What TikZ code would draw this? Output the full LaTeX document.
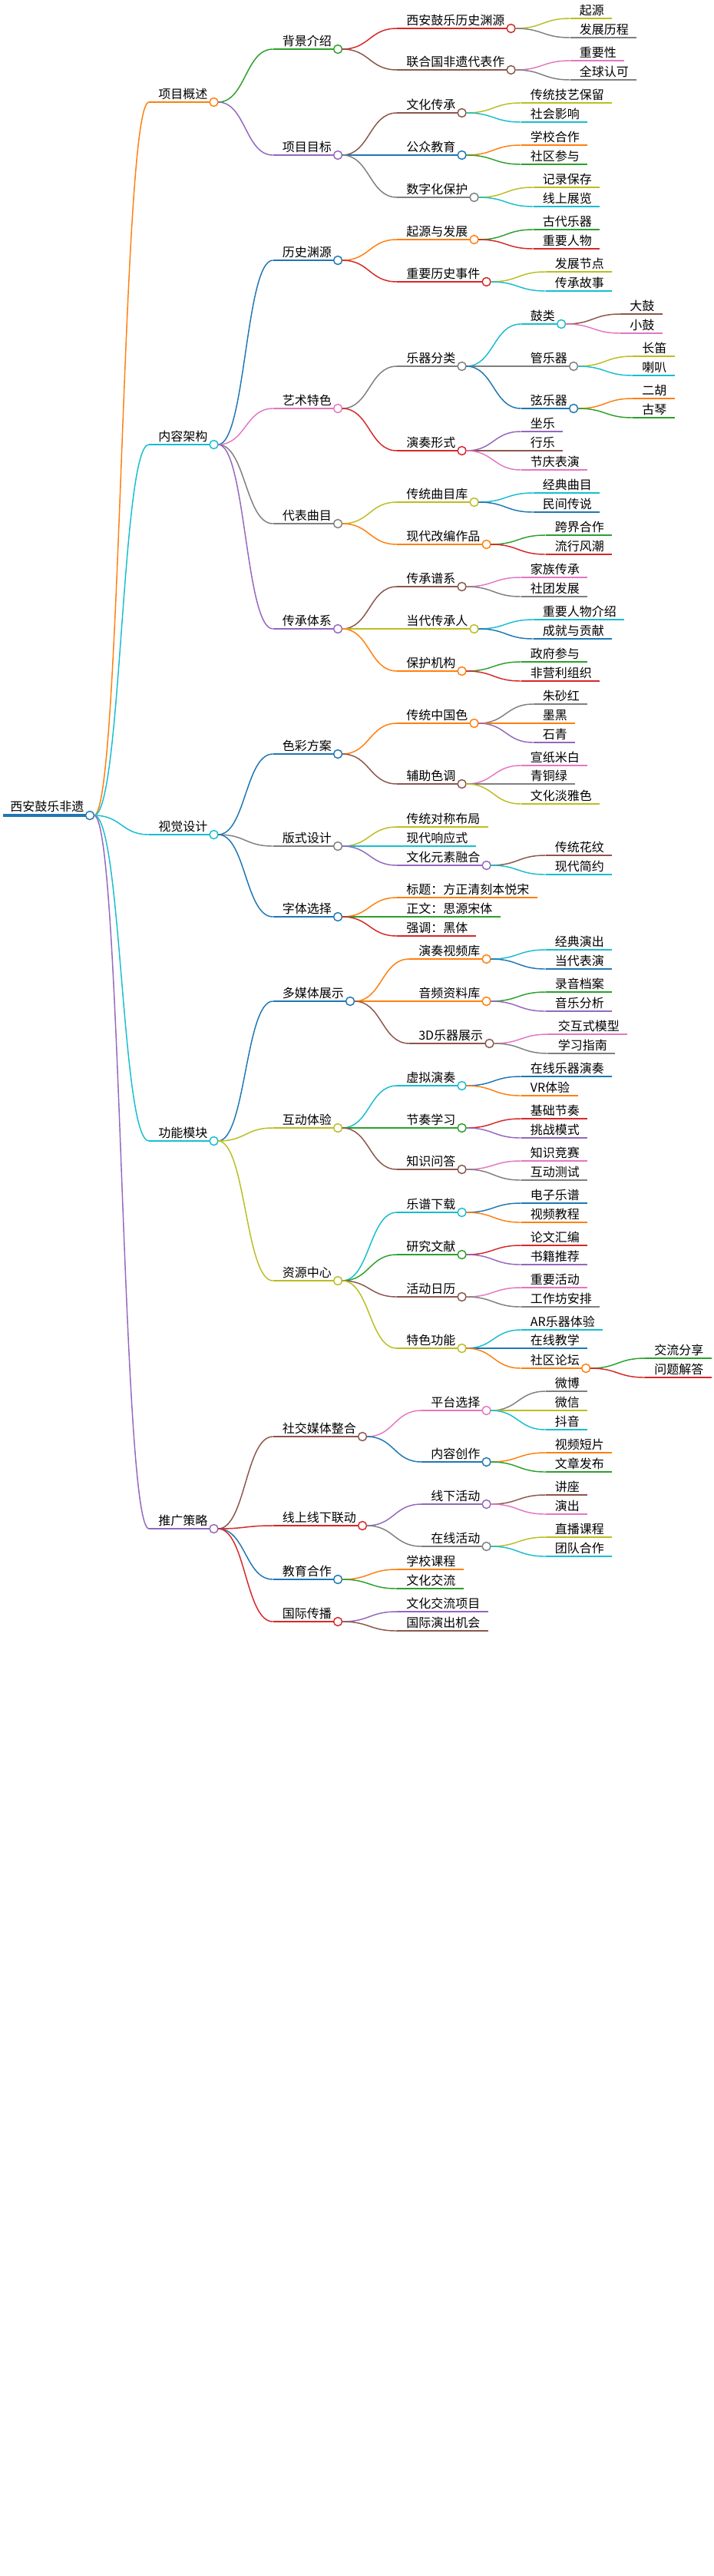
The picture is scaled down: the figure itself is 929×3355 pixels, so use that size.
\documentclass[tikz,border=0pt]{standalone}
\usepackage{fontspec}
\newfontfamily\cjk{Noto Sans CJK SC}
\definecolor{cB}{HTML}{1F77B4}\definecolor{cO}{HTML}{FF7F0E}\definecolor{cG}{HTML}{2CA02C}
\definecolor{cR}{HTML}{D62728}\definecolor{cP}{HTML}{9467BD}\definecolor{cN}{HTML}{8C564B}
\definecolor{cK}{HTML}{E377C2}\definecolor{cY}{HTML}{7F7F7F}\definecolor{cL}{HTML}{BCBD22}
\definecolor{cC}{HTML}{17BECF}
\tikzset{ln/.style={line width=1.1pt},
 txt/.style={inner sep=0pt,font=\cjk\fontsize{12pt}{14pt}\selectfont},
 dot/.style={circle,fill=white,line width=1.1pt,minimum size=8.25pt,inner sep=0pt}}
\newcommand\mn[6]{%
 \path (#2c) ++(77,0) coordinate (tmpa);
 \coordinate (#1s) at (tmpa |- 0,#3);
 \draw[#5,ln] ([xshift=4.1pt]#2c) .. controls +(36,0) and +(-36,0) .. (#1s);
 \node[txt,anchor=base west] (#1t) at ([shift={(12,-5)}]#1s) {#4};
 \ifnum#6=1
  \path (#1t.base east) ++(8,0) coordinate (tmpb);
  \coordinate (#1c) at (tmpb |- #1s);
  \draw[#5,ln] (#1s) -- (#1c);
  \node[dot,draw=#5] (#1o) at (#1c) {};
 \else
  \path (#1t.base east) ++(10,0) coordinate (tmpb);
  \draw[#5,ln] (#1s) -- (tmpb |- #1s);
 \fi}
\begin{document}
\begin{tikzpicture}[x=0.75pt,y=-0.75pt]
\useasboundingbox (0,0) rectangle (929,3355);
\coordinate (rootc) at (117,1062);
\coordinate (roots) at (4,1062);
\draw[cB,line width=2.4pt] (roots) -- (rootc);
\node[txt,anchor=base west] (roott) at (13,1056) {西安鼓乐非遗};
\node[dot,draw=cB] (rooto) at (rootc) {};
\mn{A}{root}{133}{项目概述}{cO}{1}
\mn{AA}{A}{64}{背景介绍}{cG}{1}
\mn{AAA}{AA}{37}{西安鼓乐历史渊源}{cR}{1}
\mn{AAAa}{AAA}{24}{起源}{cL}{0}
\mn{AAAb}{AAA}{49}{发展历程}{cY}{0}
\mn{AAB}{AA}{91}{联合国非遗代表作}{cN}{1}
\mn{AABa}{AAB}{79}{重要性}{cK}{0}
\mn{AABb}{AAB}{104}{全球认可}{cY}{0}
\mn{AB}{A}{202}{项目目标}{cP}{1}
\mn{ABA}{AB}{147}{文化传承}{cN}{1}
\mn{ABAa}{ABA}{134}{传统技艺保留}{cL}{0}
\mn{ABAb}{ABA}{159}{社会影响}{cC}{0}
\mn{ABB}{AB}{202}{公众教育}{cB}{1}
\mn{ABBa}{ABB}{189}{学校合作}{cO}{0}
\mn{ABBb}{ABB}{214}{社区参与}{cG}{0}
\mn{ABC}{AB}{257}{数字化保护}{cY}{1}
\mn{ABCa}{ABC}{244}{记录保存}{cL}{0}
\mn{ABCb}{ABC}{269}{线上展览}{cC}{0}
\mn{B}{root}{579}{内容架构}{cC}{1}
\mn{BA}{B}{339}{历史渊源}{cB}{1}
\mn{BAA}{BA}{312}{起源与发展}{cO}{1}
\mn{BAAa}{BAA}{299}{古代乐器}{cG}{0}
\mn{BAAb}{BAA}{324}{重要人物}{cR}{0}
\mn{BAB}{BA}{367}{重要历史事件}{cR}{1}
\mn{BABa}{BAB}{354}{发展节点}{cL}{0}
\mn{BABb}{BAB}{379}{传承故事}{cC}{0}
\mn{BB}{B}{532}{艺术特色}{cK}{1}
\mn{BBA}{BB}{477}{乐器分类}{cY}{1}
\mn{BBAA}{BBA}{422}{鼓类}{cC}{1}
\mn{BBAAa}{BBAA}{409}{大鼓}{cN}{0}
\mn{BBAAb}{BBAA}{434}{小鼓}{cK}{0}
\mn{BBAB}{BBA}{477}{管乐器}{cY}{1}
\mn{BBABa}{BBAB}{464}{长笛}{cL}{0}
\mn{BBABb}{BBAB}{489}{喇叭}{cC}{0}
\mn{BBAC}{BBA}{532}{弦乐器}{cB}{1}
\mn{BBACa}{BBAC}{519}{二胡}{cO}{0}
\mn{BBACb}{BBAC}{544}{古琴}{cG}{0}
\mn{BBB}{BB}{587}{演奏形式}{cR}{1}
\mn{BBBa}{BBB}{562}{坐乐}{cP}{0}
\mn{BBBb}{BBB}{587}{行乐}{cN}{0}
\mn{BBBc}{BBB}{612}{节庆表演}{cK}{0}
\mn{BC}{B}{682}{代表曲目}{cY}{1}
\mn{BCA}{BC}{654}{传统曲目库}{cL}{1}
\mn{BCAa}{BCA}{642}{经典曲目}{cC}{0}
\mn{BCAb}{BCA}{667}{民间传说}{cB}{0}
\mn{BCB}{BC}{709}{现代改编作品}{cO}{1}
\mn{BCBa}{BCB}{697}{跨界合作}{cG}{0}
\mn{BCBb}{BCB}{722}{流行风潮}{cR}{0}
\mn{BD}{B}{819}{传承体系}{cP}{1}
\mn{BDA}{BD}{764}{传承谱系}{cN}{1}
\mn{BDAa}{BDA}{752}{家族传承}{cK}{0}
\mn{BDAb}{BDA}{777}{社团发展}{cY}{0}
\mn{BDB}{BD}{819}{当代传承人}{cL}{1}
\mn{BDBa}{BDB}{807}{重要人物介绍}{cC}{0}
\mn{BDBb}{BDB}{832}{成就与贡献}{cB}{0}
\mn{BDC}{BD}{874}{保护机构}{cO}{1}
\mn{BDCa}{BDC}{862}{政府参与}{cG}{0}
\mn{BDCb}{BDC}{887}{非营利组织}{cR}{0}
\mn{C}{root}{1087}{视觉设计}{cC}{1}
\mn{CA}{C}{982}{色彩方案}{cB}{1}
\mn{CAA}{CA}{942}{传统中国色}{cO}{1}
\mn{CAAa}{CAA}{917}{朱砂红}{cY}{0}
\mn{CAAb}{CAA}{942}{墨黑}{cO}{0}
\mn{CAAc}{CAA}{967}{石青}{cP}{0}
\mn{CAB}{CA}{1021}{辅助色调}{cN}{1}
\mn{CABa}{CAB}{997}{宣纸米白}{cK}{0}
\mn{CABb}{CAB}{1021}{青铜绿}{cY}{0}
\mn{CABc}{CAB}{1047}{文化淡雅色}{cL}{0}
\mn{CB}{C}{1102}{版式设计}{cY}{1}
\mn{CBA}{CB}{1077}{传统对称布局}{cL}{0}
\mn{CBB}{CB}{1102}{现代响应式}{cC}{0}
\mn{CBC}{CB}{1127}{文化元素融合}{cP}{1}
\mn{CBCa}{CBC}{1114}{传统花纹}{cN}{0}
\mn{CBCb}{CBC}{1139}{现代简约}{cC}{0}
\mn{CC}{C}{1194}{字体选择}{cB}{1}
\mn{CCA}{CC}{1169}{标题：方正清刻本悦宋}{cO}{0}
\mn{CCB}{CC}{1194}{正文：思源宋体}{cG}{0}
\mn{CCC}{CC}{1219}{强调：黑体}{cR}{0}
\mn{D}{root}{1486}{功能模块}{cC}{1}
\mn{DA}{D}{1304}{多媒体展示}{cB}{1}
\mn{DAA}{DA}{1249}{演奏视频库}{cO}{1}
\mn{DAAa}{DAA}{1237}{经典演出}{cC}{0}
\mn{DAAb}{DAA}{1262}{当代表演}{cB}{0}
\mn{DAB}{DA}{1304}{音频资料库}{cO}{1}
\mn{DABa}{DAB}{1292}{录音档案}{cG}{0}
\mn{DABb}{DAB}{1317}{音乐分析}{cP}{0}
\mn{DAC}{DA}{1359}{3D乐器展示}{cN}{1}
\mn{DACa}{DAC}{1347}{交互式模型}{cK}{0}
\mn{DACb}{DAC}{1372}{学习指南}{cY}{0}
\mn{DB}{D}{1469}{互动体验}{cL}{1}
\mn{DBA}{DB}{1414}{虚拟演奏}{cC}{1}
\mn{DBAa}{DBA}{1402}{在线乐器演奏}{cB}{0}
\mn{DBAb}{DBA}{1427}{VR体验}{cO}{0}
\mn{DBB}{DB}{1469}{节奏学习}{cG}{1}
\mn{DBBa}{DBB}{1457}{基础节奏}{cR}{0}
\mn{DBBb}{DBB}{1482}{挑战模式}{cP}{0}
\mn{DBC}{DB}{1523}{知识问答}{cN}{1}
\mn{DBCa}{DBC}{1512}{知识竞赛}{cK}{0}
\mn{DBCb}{DBC}{1537}{互动测试}{cY}{0}
\mn{DC}{D}{1668}{资源中心}{cL}{1}
\mn{DCA}{DC}{1579}{乐谱下载}{cC}{1}
\mn{DCAa}{DCA}{1567}{电子乐谱}{cB}{0}
\mn{DCAb}{DCA}{1592}{视频教程}{cO}{0}
\mn{DCB}{DC}{1634}{研究文献}{cG}{1}
\mn{DCBa}{DCB}{1622}{论文汇编}{cR}{0}
\mn{DCBb}{DCB}{1647}{书籍推荐}{cP}{0}
\mn{DCC}{DC}{1689}{活动日历}{cN}{1}
\mn{DCCa}{DCC}{1677}{重要活动}{cK}{0}
\mn{DCCb}{DCC}{1702}{工作坊安排}{cY}{0}
\mn{DCD}{DC}{1756}{特色功能}{cL}{1}
\mn{DCDa}{DCD}{1732}{AR乐器体验}{cC}{0}
\mn{DCDb}{DCD}{1756}{在线教学}{cB}{0}
\mn{DCDC}{DCD}{1782}{社区论坛}{cO}{1}
\mn{DCDCa}{DCDC}{1769}{交流分享}{cG}{0}
\mn{DCDCb}{DCDC}{1794}{问题解答}{cR}{0}
\mn{E}{root}{1991}{推广策略}{cP}{1}
\mn{EA}{E}{1871}{社交媒体整合}{cN}{1}
\mn{EAA}{EA}{1837}{平台选择}{cK}{1}
\mn{EAAa}{EAA}{1812}{微博}{cY}{0}
\mn{EAAb}{EAA}{1837}{微信}{cL}{0}
\mn{EAAc}{EAA}{1862}{抖音}{cC}{0}
\mn{EAB}{EA}{1904}{内容创作}{cB}{1}
\mn{EABa}{EAB}{1892}{视频短片}{cO}{0}
\mn{EABb}{EAB}{1917}{文章发布}{cG}{0}
\mn{EB}{E}{1987}{线上线下联动}{cR}{1}
\mn{EBA}{EB}{1959}{线下活动}{cP}{1}
\mn{EBAa}{EBA}{1947}{讲座}{cN}{0}
\mn{EBAb}{EBA}{1972}{演出}{cK}{0}
\mn{EBB}{EB}{2014}{在线活动}{cY}{1}
\mn{EBBa}{EBB}{2002}{直播课程}{cL}{0}
\mn{EBBb}{EBB}{2027}{团队合作}{cC}{0}
\mn{EC}{E}{2057}{教育合作}{cB}{1}
\mn{ECa}{EC}{2044}{学校课程}{cO}{0}
\mn{ECb}{EC}{2069}{文化交流}{cG}{0}
\mn{ED}{E}{2112}{国际传播}{cR}{1}
\mn{EDa}{ED}{2099}{文化交流项目}{cP}{0}
\mn{EDb}{ED}{2124}{国际演出机会}{cN}{0}
\end{tikzpicture}
\end{document}
